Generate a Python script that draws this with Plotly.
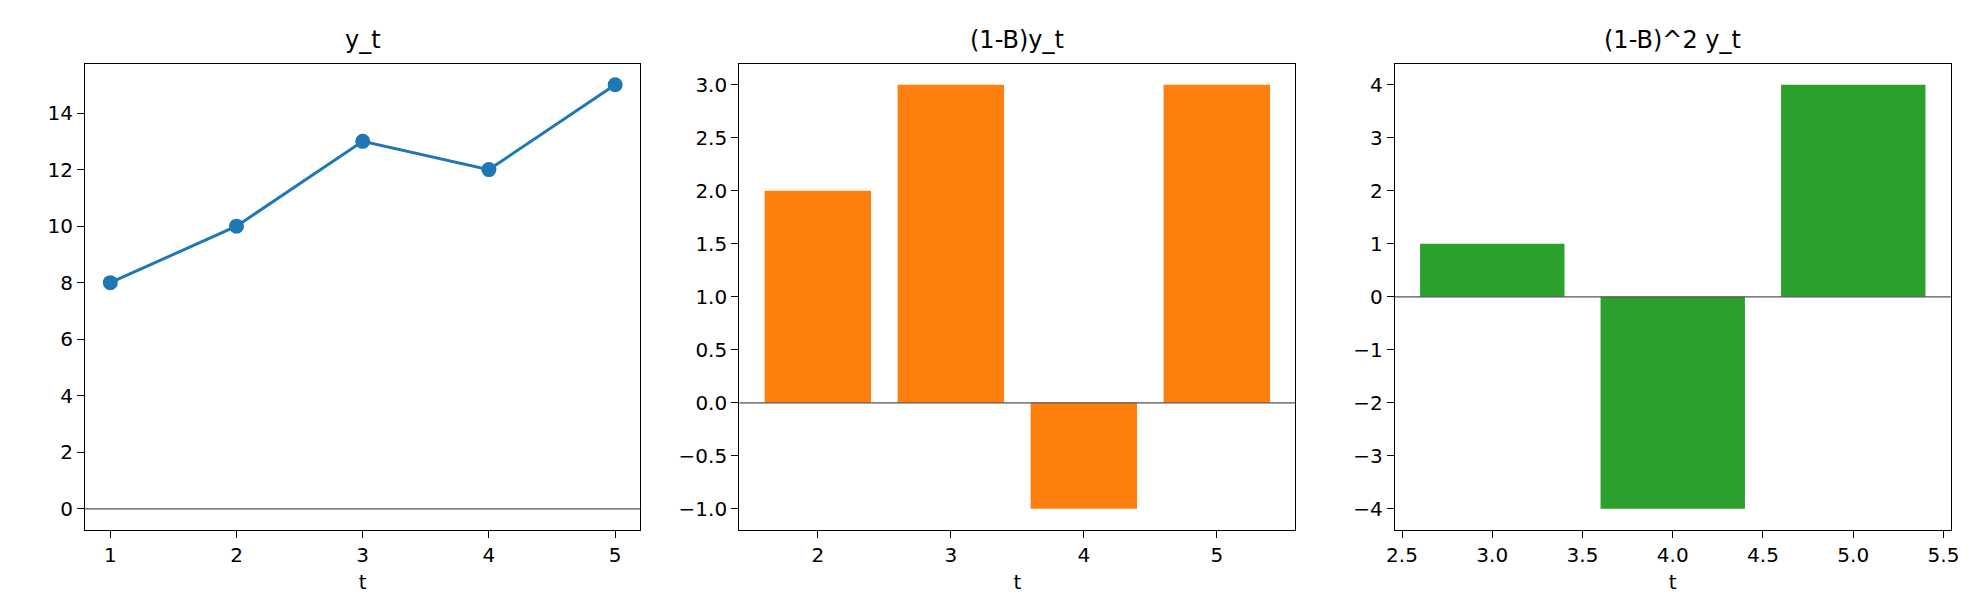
import plotly.graph_objects as go

t1 = [1, 2, 3, 4, 5]
y1 = [8, 10, 13, 12, 15]
t2 = [2, 3, 4, 5]
y2 = [2, 3, -1, 3]
t3 = [3, 4, 5]
y3 = [1, -4, 4]

fig = go.Figure()
fig.add_trace(go.Scatter(x=t1, y=y1, mode="lines+markers", line=dict(color="#1f77b4", width=3),
                         marker=dict(size=15, color="#1f77b4"), xaxis="x", yaxis="y"))
fig.add_trace(go.Bar(x=t2, y=y2, width=0.8, marker=dict(color="#ff7f0e", line_width=0), xaxis="x2", yaxis="y2"))
fig.add_trace(go.Bar(x=t3, y=y3, width=0.8, marker=dict(color="#2ca02c", line_width=0), xaxis="x3", yaxis="y3"))

doms = [(0.0348, 0.3187), (0.3693, 0.6535), (0.7044, 0.9886)]
xr = [[0.8, 5.2], [1.41, 5.59], [2.46, 5.54]]
yr = [[-0.75, 15.75], [-1.2, 3.2], [-4.4, 4.4]]
xt = [[1, 2, 3, 4, 5], [2, 3, 4, 5], [2.5, 3.0, 3.5, 4.0, 4.5, 5.0, 5.5]]
xtt = [["1", "2", "3", "4", "5"], ["2", "3", "4", "5"], ["2.5", "3.0", "3.5", "4.0", "4.5", "5.0", "5.5"]]
yt = [[0, 2, 4, 6, 8, 10, 12, 14], [-1, -0.5, 0, 0.5, 1, 1.5, 2, 2.5, 3], [-4, -3, -2, -1, 0, 1, 2, 3, 4]]
ytt = [[str(v) for v in yt[0]],
       ["−1.0", "−0.5", "0.0", "0.5", "1.0", "1.5", "2.0", "2.5", "3.0"],
       ["−4", "−3", "−2", "−1", "0", "1", "2", "3", "4"]]
titles = ["y_t", "(1-B)y_t", "(1-B)^2 y_t"]

ax = dict(showgrid=False, zeroline=False, showline=True, linecolor="black", linewidth=1.3, mirror=True,
          ticks="outside", ticklen=7, tickwidth=1.3, tickcolor="black", tickfont=dict(size=20, color="black"))
lay = {}
for i in range(3):
    s = "" if i == 0 else str(i + 1)
    lay["xaxis" + s] = dict(ax, domain=doms[i], range=xr[i], anchor="y" + s, tickvals=xt[i], ticktext=xtt[i],
                            title=dict(text="t", font=dict(size=20, color="black"), standoff=8))
    lay["yaxis" + s] = dict(ax, domain=[0.1457, 0.909], range=yr[i], anchor="x" + s, tickvals=yt[i], ticktext=ytt[i])
fig.update_layout(**lay)

for i in range(3):
    s = "" if i == 0 else str(i + 1)
    fig.add_shape(type="line", xref="x" + s + " domain", yref="y" + s, x0=0, x1=1, y0=0, y1=0,
                  line=dict(color="#555555", width=1.2))
    fig.add_annotation(text=titles[i], xref="x" + s + " domain", yref="paper", x=0.5, y=0.948,
                       yanchor="middle", showarrow=False, font=dict(size=24, color="black"))

fig.update_layout(width=1974, height=611, margin=dict(l=0, r=0, t=0, b=0), showlegend=False,
                  plot_bgcolor="white", paper_bgcolor="white", font=dict(family="DejaVu Sans", color="black"))
fig.write_html("out.html")
